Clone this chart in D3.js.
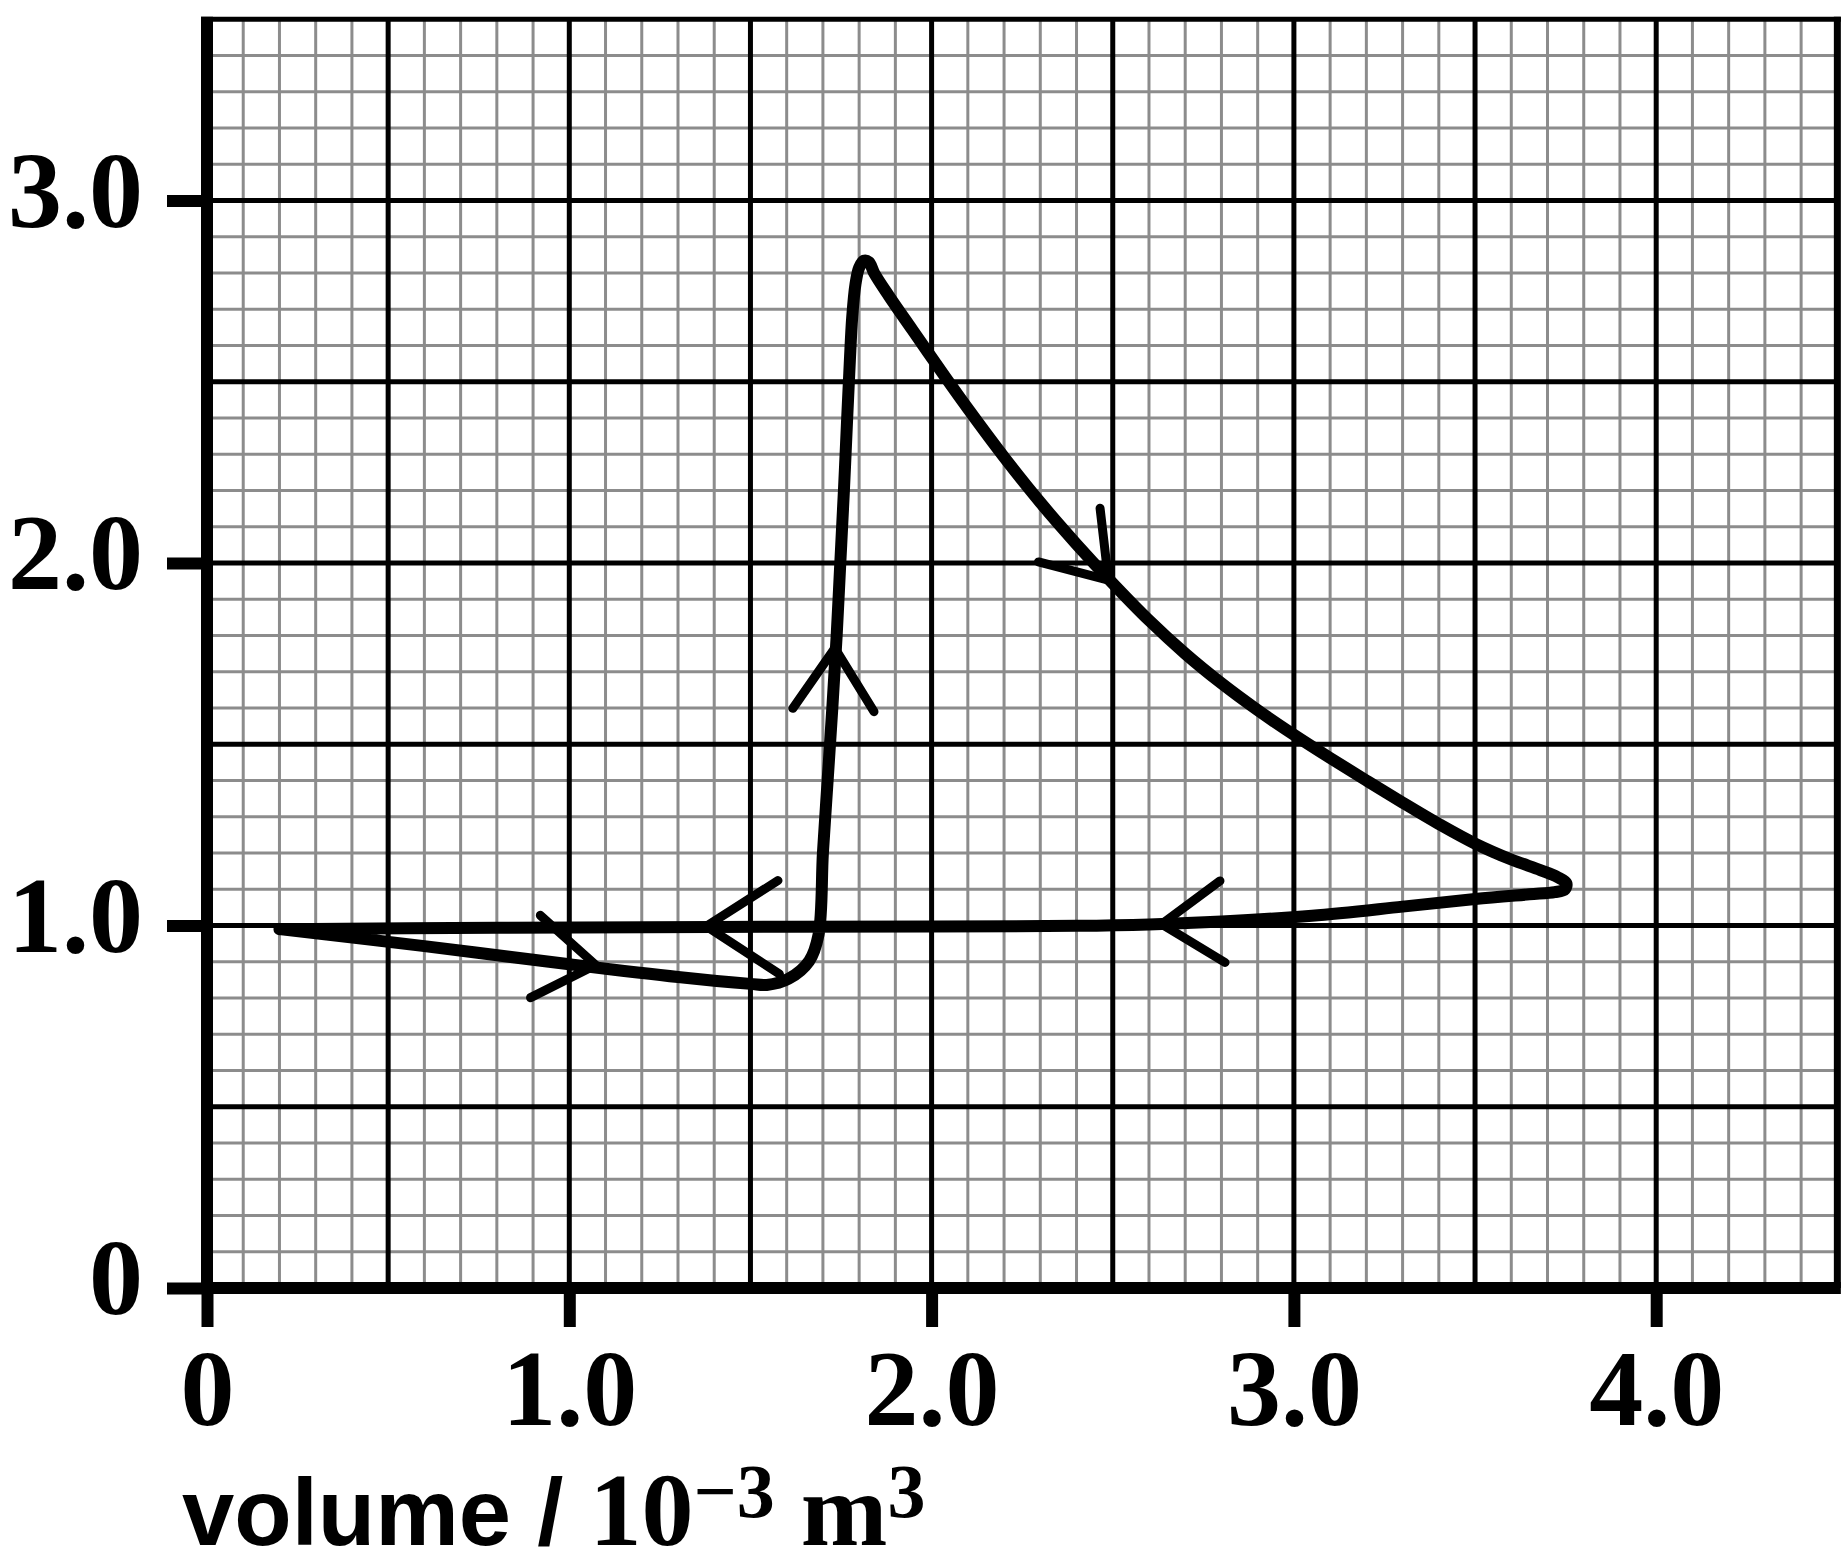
<!DOCTYPE html>
<html>
<head>
<meta charset="utf-8">
<script src="https://cdn.jsdelivr.net/npm/d3@7"></script>
<style>
  html, body { margin: 0; padding: 0; background: #fff; }
  svg { display: block; }
</style>
</head>
<body>
<svg id="chart" width="1845" height="1567"></svg>
<script>
// ---- data ----
const xTicks = [0, 1, 2, 3, 4];
const xTickLabels = ["0", "1.0", "2.0", "3.0", "4.0"];
const yTicks = [0, 1, 2, 3];
const yTickLabels = ["0", "1.0", "2.0", "3.0"];

// indicator (p–V) loop: [volume / 10^-3 m^3, pressure]
const loopVolume = [
  0.20, 0.60, 1.00, 1.30, 1.50, 1.545, 1.605, 1.662, 1.688,
  1.700, 1.713, 1.726, 1.738, 1.748, 1.758, 1.767, 1.774, 1.781, 1.790, 1.800, 1.813, 1.827,
  1.842, 1.882, 1.947, 2.037, 2.10, 2.20, 2.30, 2.40, 2.50, 2.60, 2.70,
  2.80, 2.90, 3.00, 3.10, 3.20, 3.30, 3.40, 3.50, 3.60, 3.68, 3.727, 3.752,
  3.748, 3.72, 3.65, 3.50, 3.30, 3.05, 2.80, 2.60, 2.40, 2.00, 1.40, 0.80, 0.20
];
const loopPressure = [
  0.990, 0.943, 0.893, 0.858, 0.839, 0.836, 0.853, 0.902, 0.975,
  1.20, 1.40, 1.60, 1.80, 2.00, 2.20, 2.40, 2.55, 2.68, 2.77, 2.815, 2.834, 2.830,
  2.799, 2.737, 2.643, 2.514, 2.426, 2.292, 2.167, 2.052, 1.944, 1.842, 1.750,
  1.668, 1.594, 1.526, 1.462, 1.400, 1.339, 1.280, 1.226, 1.182, 1.153, 1.134, 1.117,
  1.100, 1.092, 1.086, 1.073, 1.052, 1.027, 1.011, 1.003, 0.999, 0.997, 0.996, 0.994, 0.990
];

// direction arrows: tip and two arm ends (volume, pressure)
const arrowTipV  = [1.073, 1.378, 1.733, 2.488, 2.635];
const arrowTipP  = [0.891, 0.998, 1.765, 1.953, 1.004];
const arrowArmAV = [0.920, 1.576, 1.617, 2.465, 2.796];
const arrowArmAP = [1.028, 1.124, 1.599, 2.151, 1.123];
const arrowArmBV = [0.893, 1.580, 1.841, 2.295, 2.810];
const arrowArmBP = [0.801, 0.866, 1.590, 2.003, 0.898];

const xMax = 4.5, yMax = 3.5;

// ---- drawing ----
const svg = d3.select("#chart");
svg.append("rect").attr("width", 1845).attr("height", 1567).attr("fill", "#fff");

const x = d3.scaleLinear().domain([0, xMax]).range([207, 207 + 4.5 * 362.3]);
const y = d3.scaleLinear().domain([0, yMax]).range([1288, 1288 - 3.5 * 362.5]);

const grid = svg.append("g");
const minorX = d3.range(0, 46).map(i => i / 10).filter((v, i) => i % 5 !== 0);
const minorY = d3.range(0, 36).map(i => i / 10).filter((v, i) => i % 5 !== 0);
const majorX = d3.range(1, 9).map(i => i / 2);   // 0.5 .. 4.0
const majorY = d3.range(1, 7).map(i => i / 2);   // 0.5 .. 3.0

grid.selectAll(".mx").data(minorX).join("line")
  .attr("x1", d => x(d)).attr("x2", d => x(d))
  .attr("y1", y(0)).attr("y2", y(yMax))
  .attr("stroke", "#8c8c8c").attr("stroke-width", 3);
grid.selectAll(".my").data(minorY).join("line")
  .attr("y1", d => y(d)).attr("y2", d => y(d))
  .attr("x1", x(0)).attr("x2", x(xMax))
  .attr("stroke", "#8c8c8c").attr("stroke-width", 3);
grid.selectAll(".Mx").data(majorX).join("line")
  .attr("x1", d => x(d)).attr("x2", d => x(d))
  .attr("y1", y(0)).attr("y2", y(yMax))
  .attr("stroke", "#000").attr("stroke-width", 5);
grid.selectAll(".My").data(majorY).join("line")
  .attr("y1", d => y(d)).attr("y2", d => y(d))
  .attr("x1", x(0)).attr("x2", x(xMax))
  .attr("stroke", "#000").attr("stroke-width", 5);
// top and right borders
grid.append("line").attr("x1", x(0) - 6).attr("x2", x(xMax) + 3.5)
  .attr("y1", y(yMax)).attr("y2", y(yMax)).attr("stroke", "#000").attr("stroke-width", 5);
grid.append("line").attr("x1", x(xMax)).attr("x2", x(xMax))
  .attr("y1", y(yMax) - 2.5).attr("y2", y(0)).attr("stroke", "#000").attr("stroke-width", 7);

// axis lines
svg.append("line").attr("x1", x(0)).attr("x2", x(0))
  .attr("y1", y(yMax) - 2.5).attr("y2", y(0)).attr("stroke", "#000").attr("stroke-width", 12);
svg.append("line").attr("x1", x(0)).attr("x2", x(xMax) + 3.5)
  .attr("y1", y(0)).attr("y2", y(0)).attr("stroke", "#000").attr("stroke-width", 12);

const tickFont = "'Liberation Serif', 'Times New Roman', Times, serif";

const yAxis = svg.append("g").attr("transform", `translate(${x(0)},0)`)
  .call(d3.axisLeft(y).tickValues(yTicks).tickSize(40).tickPadding(24)
    .tickFormat((d, i) => yTickLabels[i]));
yAxis.select(".domain").remove();
yAxis.selectAll(".tick line").attr("stroke", "#000").attr("stroke-width", 12);
yAxis.selectAll(".tick text").attr("dy", "0.24em")
  .attr("font-family", tickFont).attr("font-weight", "bold").attr("font-size", 108).attr("fill", "#000");

const xAxis = svg.append("g").attr("transform", `translate(0,${y(0)})`)
  .call(d3.axisBottom(x).tickValues(xTicks).tickSize(39).tickPadding(10)
    .tickFormat((d, i) => xTickLabels[i]));
xAxis.select(".domain").remove();
xAxis.selectAll(".tick line").attr("stroke", "#000").attr("stroke-width", 12);
xAxis.selectAll(".tick text").attr("y", 137).attr("dy", 0)
  .attr("font-family", tickFont).attr("font-weight", "bold").attr("font-size", 108).attr("fill", "#000");

// x-axis title
const title = svg.append("text").attr("x", 182).attr("y", 1545).attr("fill", "#000");
title.append("tspan").text("volume / ")
  .attr("font-family", "'Liberation Sans', Arial, Helvetica, sans-serif")
  .attr("font-weight", "bold").attr("font-size", 94);
title.append("tspan").text("10")
  .attr("font-family", tickFont).attr("font-weight", "bold").attr("font-size", 104);
title.append("tspan").text("\u22123").attr("dy", -28)
  .attr("font-family", tickFont).attr("font-weight", "bold").attr("font-size", 76);
title.append("tspan").text(" m").attr("dy", 28)
  .attr("font-family", tickFont).attr("font-weight", "bold").attr("font-size", 104);
title.append("tspan").text("3").attr("dy", -28)
  .attr("font-family", tickFont).attr("font-weight", "bold").attr("font-size", 76);

// loop curve
const loopPts = loopVolume.map((v, i) => [v, loopPressure[i]]);
const line = d3.line().x(d => x(d[0])).y(d => y(d[1])).curve(d3.curveCatmullRom.alpha(0.5));
svg.append("path").attr("d", line(loopPts))
  .attr("fill", "none").attr("stroke", "#000").attr("stroke-width", 12)
  .attr("stroke-linejoin", "round").attr("stroke-linecap", "round");

// arrows
const arrows = arrowTipV.map((v, i) => [
  [arrowArmAV[i], arrowArmAP[i]], [v, arrowTipP[i]], [arrowArmBV[i], arrowArmBP[i]]
]);
const straight = d3.line().x(d => x(d[0])).y(d => y(d[1]));
svg.selectAll(".arrow").data(arrows).join("path")
  .attr("d", d => straight(d))
  .attr("fill", "none").attr("stroke", "#000").attr("stroke-width", 9)
  .attr("stroke-linejoin", "round").attr("stroke-linecap", "round");
</script>
</body>
</html>
